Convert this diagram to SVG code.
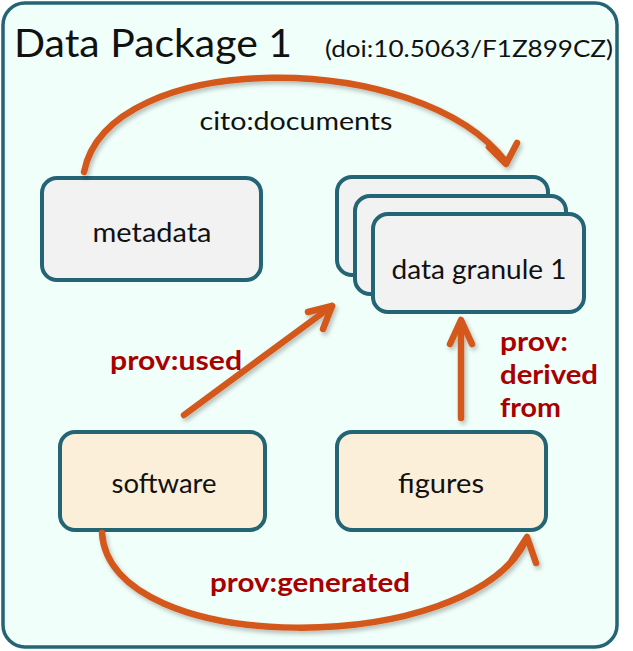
<svg xmlns="http://www.w3.org/2000/svg" width="633" height="651" viewBox="0 0 633 651">
<defs>
<style>
.box{stroke:#236475;stroke-width:4}
.grey{fill:#f2f2f2}
.tan{fill:#fcefda}
.lbl{font-family:"Source Sans Pro",Lato,"Liberation Sans",sans-serif;fill:#111;text-anchor:middle}
.rel{font-family:"Source Sans Pro",Lato,"Liberation Sans",sans-serif;fill:#a80000;font-weight:bold}
.arr{fill:none;stroke:#d4581a;stroke-width:6.5;stroke-linecap:round;stroke-linejoin:round}
</style>
<filter id="sh" x="-20%" y="-20%" width="140%" height="140%">
<feDropShadow dx="2" dy="3" stdDeviation="2" flood-color="#000" flood-opacity="0.25"/>
</filter>
</defs>
<rect x="3" y="3" width="614" height="644" rx="22" fill="#f0fffa" stroke="#236475" stroke-width="3.5"/>
<text x="14" y="57" font-family="'Source Sans Pro',Lato,sans-serif" font-size="39" fill="#111" textLength="278" lengthAdjust="spacingAndGlyphs">Data Package 1</text>
<text x="325" y="57" font-family="'Source Sans Pro',Lato,sans-serif" font-size="24" fill="#111" textLength="288" lengthAdjust="spacingAndGlyphs">(doi:10.5063/F1Z899CZ)</text>
<text class="lbl" x="296" y="130" font-size="25" textLength="193" lengthAdjust="spacingAndGlyphs">cito:documents</text>

<g id="metadata">
<rect class="box grey" x="42" y="178" width="219" height="102" rx="15"/>
<text class="lbl" x="152" y="242" font-size="26" textLength="119" lengthAdjust="spacingAndGlyphs">metadata</text>
</g>
<g id="data-granule">
<rect class="box grey" x="337" y="177" width="211" height="98" rx="15"/>
<rect class="box grey" x="355" y="196" width="211" height="98" rx="15"/>
<rect class="box grey" x="373" y="214" width="211" height="98" rx="15"/>
<text class="lbl" x="479" y="279" font-size="26" textLength="175" lengthAdjust="spacingAndGlyphs">data granule 1</text>
</g>
<g id="software">
<rect class="box tan" x="60" y="432" width="205" height="98" rx="15"/>
<text class="lbl" x="164" y="493" font-size="26" textLength="105" lengthAdjust="spacingAndGlyphs">software</text>
</g>
<g id="figures">
<rect class="box tan" x="337" y="432" width="209" height="98" rx="15"/>
<text class="lbl" x="441" y="493" font-size="26" textLength="86" lengthAdjust="spacingAndGlyphs">figures</text>
</g>

<g id="connectors" filter="url(#sh)">
<path class="arr" d="M84,172 C108,48 420,48 506,162"/>
<path class="arr" d="M489,147 L506,164 L517,143"/>
<path class="arr" d="M184,415 L332,306"/>
<path class="arr" d="M308,312 L332,306 L323,329"/>
<path class="arr" d="M461,418 L461,322"/>
<path class="arr" d="M450,344 L461,320 L472,344"/>
<path class="arr" d="M102,533 C110,658 470,658 526,540"/>
<path class="arr" d="M512,560 L527,537 L536,563"/>
</g>
<text class="rel" x="110" y="370" font-size="26" textLength="132" lengthAdjust="spacingAndGlyphs">prov:used</text>
<text class="rel" x="500" y="351" font-size="26" textLength="68" lengthAdjust="spacingAndGlyphs">prov:</text>
<text class="rel" x="500" y="384" font-size="26" textLength="98" lengthAdjust="spacingAndGlyphs">derived</text>
<text class="rel" x="500" y="417" font-size="26" textLength="61" lengthAdjust="spacingAndGlyphs">from</text>
<text class="rel" x="210" y="592" font-size="26" textLength="200" lengthAdjust="spacingAndGlyphs">prov:generated</text>
</svg>
